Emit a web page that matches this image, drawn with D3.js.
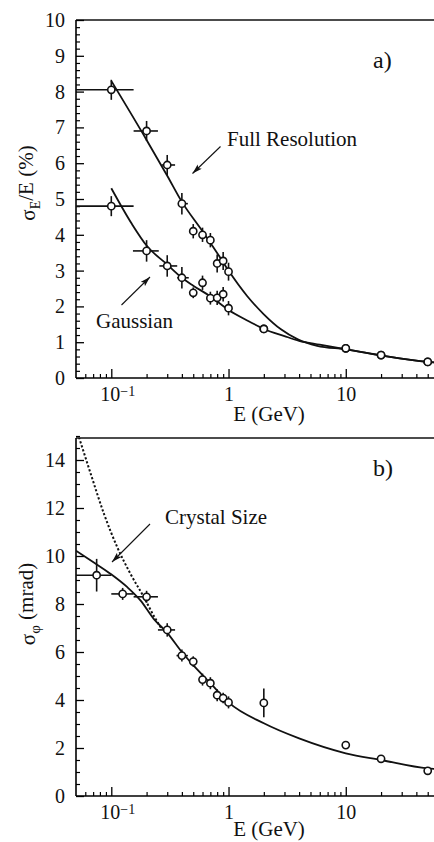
<!DOCTYPE html>
<html>
<head>
<meta charset="utf-8">
<script src="https://cdn.jsdelivr.net/npm/d3@7"></script>
<style>
  body { margin: 0; background: #fff; }
  svg text { fill: #111; }
</style>
</head>
<body>
<div id="chart"></div>
<script>
// ---- data ----
// panel a) energy resolution
const energyA = [0.1, 0.2, 0.3, 0.4, 0.5, 0.6, 0.7, 0.8, 0.9, 1, 2, 10, 20, 50];
const fullRes = [8.05, 6.9, 5.95, 4.87, 4.1, 4.0, 3.85, 3.2, 3.27, 2.97, 1.37, 0.83, 0.64, 0.45];
const fullErr = [0.28, 0.28, 0.28, 0.3, 0.2, 0.2, 0.2, 0.25, 0.25, 0.25, 0.05, 0, 0, 0];
const fullXLo = [0.05, 0.155, 0.27, 0.37, 0.5, 0.6, 0.7, 0.8, 0.9, 1, 2, 10, 20, 50];
const fullXHi = [0.155, 0.25, 0.35, 0.45, 0.5, 0.6, 0.7, 0.8, 0.9, 1, 2, 10, 20, 50];
const gaussRes = [4.8, 3.55, 3.13, 2.8, 2.38, 2.66, 2.23, 2.24, 2.34, 1.95, 1.37, 0.83, 0.64, 0.45];
const gaussErr = [0.28, 0.3, 0.3, 0.3, 0.15, 0.2, 0.18, 0.2, 0.2, 0.2, 0.05, 0, 0, 0];
const gaussXLo = [0.05, 0.153, 0.257, 0.365, 0.5, 0.6, 0.7, 0.8, 0.9, 1, 2, 10, 20, 50];
const gaussXHi = [0.155, 0.254, 0.365, 0.458, 0.5, 0.6, 0.7, 0.8, 0.9, 1, 2, 10, 20, 50];

// fitted curves
const fullCurveE = [0.1, 0.2, 0.3, 0.4, 0.6, 0.85, 1, 1.44, 2, 2.8, 3.9, 5.7, 10, 20, 50, 60];
const fullCurveY = [8.3, 6.65, 5.65, 4.92, 4.1, 3.36, 3.0, 2.29, 1.78, 1.36, 1.08, 0.9, 0.8, 0.63, 0.45, 0.43];
const gaussCurveE = [0.1, 0.15, 0.2, 0.3, 0.4, 0.5, 0.7, 1, 1.5, 2, 3, 4, 6, 10, 20, 50, 60];
const gaussCurveY = [5.3, 4.3, 3.7, 3.17, 2.8, 2.58, 2.28, 1.9, 1.58, 1.37, 1.17, 1.04, 0.93, 0.8, 0.63, 0.45, 0.43];

// panel b) angular resolution
const energyB = [0.075, 0.125, 0.2, 0.3, 0.4, 0.5, 0.6, 0.7, 0.8, 0.9, 1, 2, 10, 20, 50];
const phiRes = [9.2, 8.42, 8.3, 6.92, 5.85, 5.6, 4.85, 4.7, 4.2, 4.08, 3.9, 3.88, 2.12, 1.55, 1.05];
const phiErr = [0.68, 0.25, 0.25, 0.28, 0.25, 0.22, 0.25, 0.25, 0.25, 0.22, 0.25, 0.6, 0.05, 0, 0];
const phiXLo = [0.05, 0.1, 0.155, 0.25, 0.36, 0.47, 0.6, 0.7, 0.8, 0.9, 1, 2, 10, 20, 50];
const phiXHi = [0.1, 0.155, 0.25, 0.35, 0.45, 0.53, 0.6, 0.7, 0.8, 0.9, 1, 2, 10, 20, 50];

const phiCurveE = [0.05, 0.071, 0.099, 0.137, 0.178, 0.23, 0.3, 0.4, 0.5, 0.7, 1, 2, 4, 10, 20, 50, 60];
const phiCurveY = [10.22, 9.73, 9.25, 8.7, 8.14, 7.38, 6.8, 6.0, 5.45, 4.7, 3.9, 3.03, 2.4, 1.78, 1.5, 1.15, 1.12];
const sizeCurveE = [0.053, 0.0668, 0.0867, 0.1126, 0.146, 0.19, 0.23, 0.27];
const sizeCurveY = [14.95, 13.42, 11.75, 10.36, 9.25, 8.28, 7.51, 6.95];

const xMajor = [0.1, 1, 10];
const xMinor = [0.06, 0.07, 0.08, 0.09, 0.2, 0.3, 0.4, 0.5, 0.6, 0.7, 0.8, 0.9,
                2, 3, 4, 5, 6, 7, 8, 9, 20, 30, 40, 50];

// ---- canvas ----
const width = 434;
const height = 842;
const serif = "Liberation Serif";

const svg = d3.select("#chart")
    .append("svg")
    .attr("width", width)
    .attr("height", height)
    .style("font-family", serif);

svg.append("rect").attr("width", width).attr("height", height).attr("fill", "#fff");

// arrow head
svg.append("defs").append("marker")
    .attr("id", "arrow")
    .attr("markerUnits", "userSpaceOnUse")
    .attr("viewBox", "0 0 10 6")
    .attr("refX", 10).attr("refY", 3)
    .attr("markerWidth", 10).attr("markerHeight", 6)
    .attr("orient", "auto")
    .append("path")
    .attr("d", "M0,0 L10,3 L0,6 L2,3 z")
    .attr("fill", "#111");

const x = d3.scaleLog().domain([0.05, 60]).range([76, 437]);

function drawPanel(id, y, yMajor, yMinor, top, bottom, labelGap) {
    const g = svg.append("g");

    g.append("clipPath").attr("id", "clip" + id)
        .append("rect")
        .attr("x", x.range()[0]).attr("y", top)
        .attr("width", width - x.range()[0]).attr("height", bottom - top);

    // top frame line
    g.append("line")
        .attr("x1", x.range()[0]).attr("x2", width)
        .attr("y1", top).attr("y2", top)
        .attr("stroke", "#111").attr("stroke-width", 1.6);

    // y axis (ticks point inward)
    const yAxis = g.append("g")
        .attr("transform", `translate(${x.range()[0]},0)`)
        .call(d3.axisLeft(y).tickValues(yMajor).tickSizeInner(-8).tickSizeOuter(0).tickPadding(11));
    yAxis.attr("font-family", null);
    yAxis.select(".domain").attr("stroke-width", 1.6).attr("d", `M0,${top}V${bottom}`);
    yAxis.selectAll("text").attr("font-size", 20).style("font-family", serif);
    yAxis.selectAll(".tick line").attr("stroke-width", 1.3);

    g.append("g")
        .attr("transform", `translate(${x.range()[0]},0)`)
        .call(d3.axisLeft(y).tickValues(yMinor).tickSize(-4).tickFormat(""))
        .call(a => a.select(".domain").remove())
        .selectAll("line").attr("stroke-width", 1.2);

    // x axis
    const xAxis = g.append("g")
        .attr("transform", `translate(0,${bottom})`)
        .call(d3.axisBottom(x).tickValues(xMajor).tickSizeInner(-9).tickSizeOuter(0).tickPadding(9).tickFormat(""));
    xAxis.attr("font-family", null);
    xAxis.select(".domain").attr("stroke-width", 1.6).attr("d", `M${x.range()[0]},0H${width}`);
    xAxis.selectAll(".tick line").attr("stroke-width", 1.3);
    xAxis.selectAll(".tick text").each(function (d) {
        const t = d3.select(this).attr("font-size", 20).attr("dy", "0.72em").style("font-family", serif);
        if (d === 0.1) {
            t.append("tspan").text("10");
            t.append("tspan").attr("dy", "-0.4em").attr("font-size", 14).text("\u2212" + "1");
            t.attr("dx", "0.3em");
        } else {
            t.text(d3.format("d")(d));
        }
    });

    g.append("g")
        .attr("transform", `translate(0,${bottom})`)
        .call(d3.axisBottom(x).tickValues(xMinor).tickSize(-4).tickFormat(""))
        .call(a => a.select(".domain").remove())
        .selectAll("line").attr("stroke-width", 1.2);

    g.append("text")
        .attr("x", 269).attr("y", bottom + labelGap)
        .attr("text-anchor", "middle")
        .attr("font-size", 21)
        .text("E (GeV)");

    const plot = g.append("g").attr("clip-path", `url(#clip${id})`);
    return { g, plot };
}

function drawCurve(plot, y, es, ys, dashed) {
    const line = d3.line()
        .x(d => x(d[0]))
        .y(d => y(d[1]))
        .curve(d3.curveMonotoneX);
    plot.append("path")
        .datum(d3.zip(es, ys))
        .attr("d", line)
        .attr("fill", "none")
        .attr("stroke", "#111")
        .attr("stroke-width", dashed ? 2 : 1.8)
        .attr("stroke-dasharray", dashed ? "2.2,2" : null);
}

function drawPoints(plot, y, es, vs, err, xlo, xhi) {
    const pts = es.map((e, i) => ({ e, v: vs[i], err: err[i], lo: xlo[i], hi: xhi[i] }));
    const grp = plot.append("g");
    grp.selectAll(".ex").data(pts.filter(d => d.hi > d.lo)).enter()
        .append("line")
        .attr("x1", d => x(d.lo)).attr("x2", d => x(d.hi))
        .attr("y1", d => y(d.v)).attr("y2", d => y(d.v))
        .attr("stroke", "#111").attr("stroke-width", 1.6);
    grp.selectAll(".ey").data(pts.filter(d => d.err > 0)).enter()
        .append("line")
        .attr("x1", d => x(d.e)).attr("x2", d => x(d.e))
        .attr("y1", d => y(d.v - d.err)).attr("y2", d => y(d.v + d.err))
        .attr("stroke", "#111").attr("stroke-width", 1.6);
    grp.selectAll("circle").data(pts).enter()
        .append("circle")
        .attr("cx", d => x(d.e)).attr("cy", d => y(d.v))
        .attr("r", 3.6)
        .attr("fill", "#fff").attr("stroke", "#111").attr("stroke-width", 1.6);
}

function arrow(g, x1, y1, x2, y2) {
    g.append("line")
        .attr("x1", x1).attr("y1", y1).attr("x2", x2).attr("y2", y2)
        .attr("stroke", "#111").attr("stroke-width", 1.1)
        .attr("marker-end", "url(#arrow)");
}

// ---- panel a ----
const yA = d3.scaleLinear().domain([0, 10]).range([378, 20]);
const pa = drawPanel("a", yA, d3.range(0, 11, 1), d3.range(0, 10.01, 0.2).filter(v => Math.abs(v - Math.round(v)) > 1e-6), 20, 378, 43);

drawCurve(pa.plot, yA, fullCurveE, fullCurveY, false);
drawCurve(pa.plot, yA, gaussCurveE, gaussCurveY, false);
drawPoints(pa.plot, yA, energyA, fullRes, fullErr, fullXLo, fullXHi);
drawPoints(pa.plot, yA, energyA, gaussRes, gaussErr, gaussXLo, gaussXHi);

const labA = pa.g.append("text")
    .attr("transform", "translate(35,183) rotate(-90)")
    .attr("text-anchor", "middle")
    .attr("font-size", 21);
labA.append("tspan").text("\u03c3");
labA.append("tspan").attr("dy", "0.35em").attr("font-size", 14).text("E");
labA.append("tspan").attr("dy", "-0.35em").text("/E (%)");

pa.g.append("text").attr("x", 373).attr("y", 68).attr("font-size", 24).text("a)");
pa.g.append("text").attr("x", 227).attr("y", 146).attr("font-size", 21).text("Full Resolution");
pa.g.append("text").attr("x", 96).attr("y", 328).attr("font-size", 21).text("Gaussian");
arrow(pa.g, 220.5, 146.5, 192.5, 173.5);
arrow(pa.g, 121.5, 305, 150, 277);

// ---- panel b ----
const yB = d3.scaleLinear().domain([0, 15]).range([796, 436]);
const pb = drawPanel("b", yB, d3.range(0, 15, 2), d3.range(0, 15.01, 0.5).filter(v => v % 2 !== 0), 438, 796, 40);

drawCurve(pb.plot, yB, sizeCurveE, sizeCurveY, true);
drawCurve(pb.plot, yB, phiCurveE, phiCurveY, false);
drawPoints(pb.plot, yB, energyB, phiRes, phiErr, phiXLo, phiXHi);

const labB = pb.g.append("text")
    .attr("transform", "translate(35,604) rotate(-90)")
    .attr("text-anchor", "middle")
    .attr("font-size", 21);
labB.append("tspan").text("\u03c3");
labB.append("tspan").attr("dy", "0.3em").attr("font-size", 15).text("\u03c6");
labB.append("tspan").attr("dy", "-0.3em").text(" (mrad)");

pb.g.append("text").attr("x", 373).attr("y", 476).attr("font-size", 24).text("b)");
pb.g.append("text").attr("x", 165).attr("y", 524).attr("font-size", 21).text("Crystal Size");
arrow(pb.g, 150, 524, 112, 562);
</script>
</body>
</html>
